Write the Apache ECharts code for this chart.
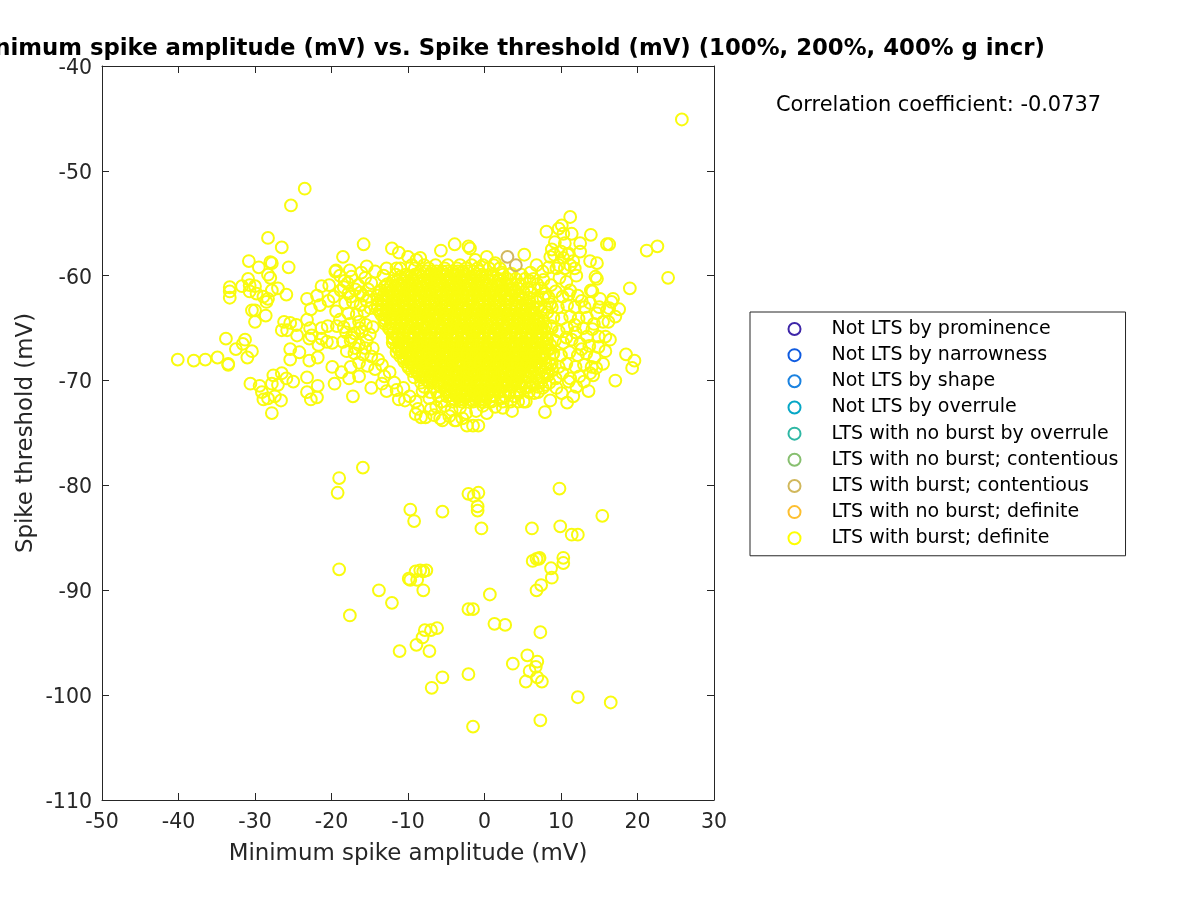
<!DOCTYPE html>
<html><head><meta charset="utf-8"><style>html,body{margin:0;background:#fff}#c{width:1200px;height:900px}</style>
<script src="https://cdn.jsdelivr.net/npm/echarts@6/dist/echarts.min.js"></script></head><body><div id="c"></div>
<script>
const categories=["Not LTS by prominence","Not LTS by narrowness","Not LTS by shape","Not LTS by overrule","LTS with no burst by overrule","LTS with no burst; contentious","LTS with burst; contentious","LTS with no burst; definite","LTS with burst; definite"];
const colors=["#3e26a8","#0f5be0","#1a82e0","#06a7c6","#2eb7a4","#87bf6f","#d1b85c","#fdbf2f","#f9fb0e"];
const contentious=[[3.0,-58.2],[4.1,-59.0]];
const lowerGroup=[[-19,-79.3],[-19.2,-80.7],[-15.9,-78.3],[-9.7,-82.3],[-9.2,-83.4],[-5.5,-82.5],[-2.1,-80.8],[-1.4,-81],[-0.8,-80.7],[-0.9,-82],[-0.9,-82.4],[-0.4,-84.1],[9.8,-80.3],[15.4,-82.9],[9.9,-83.9],[11.4,-84.7],[12.2,-84.7],[6.2,-84.1],[-19,-88],[-9.9,-88.9],[-9.7,-89],[-9,-88.2],[-8.4,-88.1],[-8,-88.2],[-7.6,-88.1],[-8.8,-89],[-8,-90],[-13.8,-90],[-12.1,-91.2],[-17.6,-92.4],[0.7,-90.4],[6.3,-87.2],[6.8,-87],[7.1,-87],[7.2,-86.9],[8.7,-87.9],[8.8,-88.8],[10.3,-87.4],[10.3,-86.9],[7.4,-89.5],[6.8,-90],[-2.1,-91.8],[-1.5,-91.8],[1.3,-93.2],[2.7,-93.3],[7.3,-94],[-6.2,-93.6],[-7,-93.8],[-7.8,-93.8],[-8.1,-94.5],[-8.9,-95.2],[-11.1,-95.8],[-7.2,-95.8],[-5.5,-98.3],[-6.9,-99.3],[-2.1,-98],[3.7,-97],[5.6,-96.2],[6.9,-96.8],[6.7,-97.3],[5.9,-97.7],[5.4,-98.7],[6.9,-98.3],[7.5,-98.7],[12.2,-100.2],[16.5,-100.7],[7.3,-102.4],[-1.5,-103]];
const outliers=[[25.8,-45.1],[-23.5,-51.7],[-25.3,-53.3],[-28.3,-56.4],[-26.5,-57.3],[-30.8,-58.6],[-28,-58.7],[-27.8,-58.8],[-29.5,-59.2],[-25.6,-59.2],[-28.3,-59.9],[-28,-60.2],[-30.9,-60.3],[-33.3,-61.1],[-33.3,-61.5],[-33.3,-62.1],[-31.7,-61],[-30.7,-60.9],[-30,-61],[-30.7,-61.5],[-29.8,-61.7],[-28.9,-62],[-28.3,-62.2],[-28.5,-62.5],[-27,-61.2],[-27.8,-61.4],[-25.9,-61.8],[-30.4,-63.3],[-30,-63.3],[-28.6,-63.8],[-30,-64.4],[-21.3,-61],[-23.2,-62.2],[-21.9,-61.9],[-20.4,-62.4],[-21.5,-62.8],[-22.7,-63.2],[-23.2,-64.2],[-26.2,-64.4],[-25.4,-64.5],[-24.6,-64.7],[-26.5,-65.2],[-25.8,-65.2],[-24.5,-65.7],[-22.8,-65],[-22.9,-66],[-22.6,-65.7],[-21.3,-65],[-20.5,-64.8],[-19.3,-64.8],[-21.3,-66],[-20.6,-66.3],[-19.9,-66.4],[-21.7,-66.6],[-25.4,-67],[-24.2,-67.3],[-25.4,-68],[-22.9,-68.1],[-21.8,-67.8],[-33.8,-66],[-31.3,-66.1],[-31.6,-66.5],[-32.5,-67],[-30.4,-67.2],[-31,-67.8],[-40.1,-68],[-38,-68.1],[-36.5,-68],[-34.9,-67.8],[-33.5,-68.4],[-33.5,-68.5],[-19.9,-68.7],[-18.7,-69.2],[-17.5,-68.7],[-16.4,-68.3],[-17.7,-69.8],[-16.4,-69.6],[-19.6,-70.3],[-17.2,-71.5],[-14.8,-70.7],[-11.2,-71.8],[-30.6,-70.3],[-29.4,-70.5],[-27.6,-69.5],[-26.5,-69.3],[-25.9,-69.8],[-25,-70.1],[-23.2,-69.7],[-27.8,-70.3],[-27,-70.4],[-29.1,-71.1],[-28.9,-71.8],[-28.3,-71.7],[-27.4,-71.5],[-26.6,-71.9],[-27.8,-73.1],[-23.2,-71.1],[-21.8,-70.5],[-21.9,-71.6],[-22.7,-71.8],[-15.8,-57],[-18.5,-58.2],[-19.4,-59.5],[-19.5,-59.6],[-12.1,-57.4],[-11.2,-57.8],[-10,-58.2],[-8.9,-58.5],[-8.4,-58.3],[-5.7,-57.6],[-17.6,-59.5],[-15.4,-59.1],[-11.5,-59.3],[11.2,-54.4],[8.1,-55.8],[10.1,-55.2],[9.7,-55.5],[10.3,-56],[11.4,-56],[13.9,-56.1],[9.2,-56.8],[10.5,-56.9],[12.5,-56.9],[12.5,-57.7],[8.8,-57.5],[16,-57],[16.3,-57],[21.2,-57.6],[22.6,-57.2],[24,-60.2],[19,-61.2],[8.6,-58.2],[9.7,-59],[10.3,-58.3],[11.2,-59],[11.8,-59.3],[10.5,-59.3],[9.4,-59.3],[13.8,-58.6],[14.7,-58.8],[14.5,-60.1],[14.7,-60.3],[13.9,-61.4],[14.1,-61.5],[11.2,-61.4],[11,-61.8],[16.8,-62.2],[17.6,-63.2],[16.6,-62.5],[17.1,-63.9],[16,-63.3],[15.1,-62.2],[13.1,-63],[14.7,-63.6],[15.5,-64.4],[16.4,-66.1],[15.8,-65.8],[15.8,-67.2],[14.9,-65.8],[15.5,-68.4],[13.4,-65.8],[12.5,-66.5],[18.5,-67.5],[19.6,-68.1],[19.3,-68.8],[17.1,-70],[14.2,-69.5],[13.8,-69.3],[13.6,-71],[12,-70.6],[11,-70.1],[11.6,-71.5],[10.8,-72.1],[7.9,-73],[8.6,-71.9],[5.4,-72],[3.6,-72.9],[1.4,-72.5],[-3.7,-73.8],[-5.8,-73.6],[-1.5,-74.3],[-2.3,-74.3],[-0.8,-74.3],[-3.9,-57],[-2.1,-57.2],[-1.9,-57.4],[0.3,-58.2],[5.2,-58],[6.8,-59],[-1.2,-58.5],[1.4,-58.8],[6,-59.7],[7.7,-60.4],[-9,-73.2],[-8.3,-73.5],[-7.7,-73.5],[-7,-72.7],[-5.5,-73.8],[-3.9,-73.8]];
const leftCloud=[[-18.3,-60.5],[-17.4,-60.1],[-16.5,-60.9],[-15.6,-60.2],[-14.8,-60.7],[-18.8,-61.4],[-17.8,-61.7],[-16.9,-61.3],[-15.9,-61.9],[-15.2,-61.3],[-18.2,-62.6],[-17.2,-62.5],[-16.2,-62.8],[-15.4,-62.4],[-17.8,-63.6],[-16.7,-63.7],[-15.7,-63.4],[-18.9,-64.2],[-17.6,-64.6],[-16.4,-64.4],[-15.5,-64.7],[-18.1,-65.4],[-17,-65.5],[-16,-65.3],[-15,-65.6],[-18.5,-66.3],[-17.5,-66.2],[-16.4,-66.6],[-15.4,-66.2],[-14.6,-66.9],[-18,-67.2],[-17,-67.4],[-15.9,-67.5],[-14.8,-67.7],[-13.9,-68],[-15.3,-68.6],[-14.3,-68.9],[-13.4,-68.5],[-13.1,-69.6],[-12.4,-69.2],[-11.8,-70.2],[-13.4,-70.3],[-20.3,-60.9],[-19.7,-62],[-19.4,-63.4],[-10.6,-70.7],[-9.8,-71.5],[-9,-72],[-8.1,-71],[-7.2,-71.7],[-6.3,-72.5],[-5.2,-72.4],[-4.3,-72.8],[-3.2,-72.6],[-2.4,-73.1],[-1.1,-72.9],[-0.2,-72.4],[0.7,-71.9],[2.2,-71.7],[3.1,-71.2],[4.2,-71.1],[6.5,-71.2],[7.6,-70.7],[-16.1,-59.7],[-14.3,-59.6],[-13.2,-60],[-18.9,-60],[-17.9,-60.7],[-16.2,-61.6],[-18.4,-61.1],[-15.1,-62],[-17.5,-62],[-14.9,-63.1],[-16.3,-65],[-17.4,-65.9],[-15.6,-66.9],[-16.9,-66.9],[-14.6,-64.9],[-18.4,-64.9],[-12.8,-71],[-11.5,-70.9],[-10.4,-71.9],[-8.7,-72.7],[-6.6,-73.3],[-4.6,-73.4],[-2.9,-73.6],[0.3,-73.1],[2.4,-72.6],[4.4,-72]];
const rightCloud=[[8.7,-60.9],[9.8,-60.2],[10.7,-60.6],[12,-60],[8,-61.7],[9.3,-61.5],[10.2,-62],[12.2,-61.9],[8.6,-62.7],[9.6,-63],[10.8,-62.8],[11.8,-63],[12.7,-62.4],[13.8,-62.6],[9,-64],[10.1,-64.1],[11.2,-63.9],[12.3,-64.1],[13.4,-64],[14.3,-64.6],[16.2,-64.4],[8.8,-65],[9.7,-65.3],[10.8,-65],[11.9,-65.4],[12.9,-65],[14.1,-65.1],[9.2,-66.2],[10.3,-66.4],[11.4,-66.1],[13.7,-66.7],[14.9,-66.8],[9,-67.4],[10,-67.6],[11.1,-67.3],[12.2,-67.6],[13.3,-67.4],[14.4,-67.8],[8.6,-68.5],[9.7,-68.7],[10.7,-68.4],[11.9,-68.7],[13,-68.5],[14,-68.7],[8.3,-69.5],[9.3,-69.8],[10.2,-69.3],[12.4,-69.6],[8,-70.4],[9.4,-70.7],[10.1,-71.2],[15,-63],[16.3,-63.1],[10,-57.7],[11,-57.9],[11.6,-58.6],[9.1,-58],[10.9,-58],[8.4,-59.2],[7.6,-59.6],[6.9,-60.8],[5.9,-60.5],[4.8,-59.9],[3.5,-59.8],[2.3,-59.7],[8.2,-63.5],[8.1,-66],[8.5,-67],[8.9,-69],[7.8,-69.2],[7.2,-70],[6.4,-70.4],[5.4,-70.7],[4.6,-70.3],[5.4,-69.6],[11.8,-64.7],[10.7,-65.9],[12.7,-67],[14.6,-68.8],[11.2,-69.8],[13,-70.1]];
const coreY=[-59.6,-60.1,-60.5,-61,-61.4,-61.9,-62.3,-62.8,-63.2,-63.7,-64.1,-64.6,-65,-65.5,-65.9,-66.4,-66.8,-67.3,-67.7,-68.2,-68.6,-69.1,-69.5,-70,-70.4,-70.9,-71.4,-71.8];
const coreX=[
[-8.4,-7.6,-6.9,-6.3,-5.5,-4.9,-4.1,-3.5,-2.8,-2.2,-1.4,-0.7],
[-11,-10.2,-9.6,-8.8,-8.2,-7.4,-6.7,-6.1,-5.3,-4.6,-3.9,-3.2,-2.6,-1.8,-1.1,-0.5,0.3,1],
[-12,-11.4,-10.6,-9.9,-9.3,-8.5,-7.8,-7.1,-6.5,-5.7,-5,-4.4,-3.6,-2.9,-2.3,-1.5,-0.8,-0.1,0.6,1.3,2],
[-13,-12.3,-11.7,-10.9,-10.2,-9.6,-8.8,-8.1,-7.5,-6.7,-6,-5.3,-4.7,-3.9,-3.2,-2.6,-1.8,-1.1,-0.4,0.2,1,1.7,2.3,3],
[-13.5,-12.8,-12,-11.4,-10.6,-9.9,-9.2,-8.6,-7.8,-7.1,-6.4,-5.8,-5,-4.3,-3.6,-3,-2.2,-1.5,-0.8,-0.2,0.6,1.3,2,2.6,3.4,4],
[-14,-13.2,-12.5,-11.9,-11.1,-10.4,-9.7,-9.1,-8.3,-7.6,-6.9,-6.2,-5.6,-4.8,-4.1,-3.5,-2.7,-2,-1.3,-0.7,0.1,0.8,1.5,2.1,2.9,3.6,4.5],
[-14,-13.5,-12.8,-12.1,-11.5,-10.7,-10,-9.3,-8.7,-7.9,-7.2,-6.6,-5.8,-5.1,-4.4,-3.8,-3,-2.3,-1.7,-0.9,-0.2,0.5,1.1,1.9,2.6,3.2,4,5],
[-14,-13.3,-12.6,-11.8,-11.2,-10.5,-9.8,-9.1,-8.4,-7.7,-7,-6.3,-5.6,-4.9,-4.2,-3.5,-2.8,-2.1,-1.4,-0.7,0,0.7,1.4,2.1,2.8,3.5,4.2,4.9,5.5],
[-14,-13.4,-12.7,-12,-11.4,-10.6,-9.9,-9.3,-8.5,-7.8,-7.2,-6.4,-5.7,-5.1,-4.3,-3.6,-3,-2.2,-1.5,-0.9,-0.1,0.6,1.2,2,2.7,3.3,4.1,4.8,5.4,6],
[-13.5,-12.9,-12.2,-11.5,-10.9,-10.1,-9.4,-8.8,-8,-7.3,-6.7,-5.9,-5.2,-4.6,-3.8,-3.1,-2.5,-1.7,-1,-0.4,0.4,1.1,1.7,2.5,3.2,3.8,4.6,5.3,5.9,6.5],
[-13,-12.4,-11.7,-11,-10.4,-9.6,-8.9,-8.3,-7.5,-6.8,-6.2,-5.4,-4.7,-4.1,-3.3,-2.6,-2,-1.2,-0.5,0.1,0.9,1.6,2.2,3,3.7,4.3,5.1,5.8,6.4,7],
[-13,-12.2,-11.5,-10.9,-10.1,-9.4,-8.7,-8.1,-7.3,-6.6,-5.9,-5.3,-4.5,-3.8,-3.1,-2.5,-1.7,-1,-0.3,0.3,1.1,1.8,2.5,3.1,3.9,4.6,5.3,5.9,6.6,7.2],
[-12.5,-11.9,-11.1,-10.4,-9.8,-9,-8.3,-7.7,-6.9,-6.2,-5.6,-4.8,-4.1,-3.5,-2.7,-2,-1.4,-0.6,0.1,0.7,1.5,2.2,2.8,3.6,4.3,4.9,5.7,6.4,7,7.5],
[-12,-11.3,-10.7,-9.9,-9.2,-8.6,-7.8,-7.1,-6.5,-5.7,-5,-4.4,-3.6,-2.9,-2.3,-1.5,-0.8,-0.2,0.6,1.3,1.9,2.7,3.4,4,4.8,5.5,6.1,6.9,7.5],
[-12,-11.4,-10.6,-9.9,-9.3,-8.5,-7.8,-7.2,-6.4,-5.7,-5.1,-4.3,-3.6,-3,-2.2,-1.5,-0.9,-0.1,0.6,1.2,2,2.7,3.3,4.1,4.8,5.4,6.2,6.9,7.5],
[-12,-11.2,-10.5,-9.9,-9.1,-8.4,-7.7,-7.1,-6.3,-5.6,-4.9,-4.3,-3.5,-2.8,-2.1,-1.5,-0.7,0,0.7,1.3,2.1,2.8,3.5,4.1,4.9,5.6,6.3,6.9,7.6,8],
[-11.5,-10.8,-10.2,-9.4,-8.7,-8.1,-7.3,-6.6,-6,-5.2,-4.5,-3.9,-3.1,-2.4,-1.8,-1,-0.3,0.3,1.1,1.8,2.4,3.2,3.9,4.5,5.3,6,6.6,7.4,8],
[-11.5,-10.9,-10.1,-9.4,-8.8,-8,-7.3,-6.7,-5.9,-5.2,-4.6,-3.8,-3.1,-2.5,-1.7,-1,-0.4,0.4,1.1,1.7,2.5,3.2,3.8,4.6,5.3,5.9,6.7,7.5],
[-11,-10.3,-9.7,-8.9,-8.2,-7.6,-6.8,-6.1,-5.5,-4.7,-4,-3.4,-2.6,-1.9,-1.3,-0.5,0.2,0.8,1.6,2.3,2.9,3.7,4.4,5,5.8,6.5,7.1,7.5],
[-10.5,-9.8,-9.1,-8.5,-7.7,-7,-6.3,-5.7,-4.9,-4.2,-3.5,-2.9,-2.1,-1.4,-0.7,-0.1,0.7,1.4,2.1,2.7,3.5,4.2,4.9,5.5,6.3,7],
[-10,-9.3,-8.7,-7.9,-7.2,-6.6,-5.8,-5.1,-4.5,-3.7,-3,-2.4,-1.6,-0.9,-0.3,0.5,1.2,1.8,2.6,3.3,3.9,4.7,5.4,6,6.5],
[-9.5,-8.9,-8.1,-7.4,-6.8,-6,-5.3,-4.7,-3.9,-3.2,-2.6,-1.8,-1.1,-0.5,0.3,1,1.6,2.4,3.1,3.7,4.5,5.2,6],
[-8.5,-7.8,-7.1,-6.5,-5.7,-5,-4.3,-3.7,-2.9,-2.2,-1.5,-0.9,-0.1,0.6,1.3,1.9,2.7,3.4,4.1,5],
[-7.5,-6.9,-6.1,-5.4,-4.8,-4,-3.3,-2.7,-1.9,-1.2,-0.6,0.2,0.9,1.5,2.3,3,3.5,4],
[-6,-5.3,-4.7,-3.9,-3.2,-2.6,-1.8,-1.1,-0.5,0.3,1,1.7,2.3,3],
[-5,-4.4,-3.6,-2.9,-2.3,-1.5,-0.8,-0.2,0.6,1.3,2],
[-4.5,-3.8,-3.1,-2.5,-1.7,-1,-0.3,0.3,1],
[-4,-3.3,-2.7,-1.9,-1.2,-0.6,0]];
const fillY=[-59.9,-60.8,-61.6,-62.5,-63.4,-64.3,-65.2,-66.1,-67,-67.9,-68.8,-69.7,-70.6,-71.5];
const fillX=[
[-11.6,-10.3,-9.1,-7.2,-6.6,-5.1,-3.8,-2.5,-0.3,1.1,2.4,3.2],
[-12.7,-11.1,-9.8,-8.4,-7.5,-6.2,-5.5,-4.2,-3.3,-2,-0.9,0.4,1.9,3.6,4.7],
[-13.8,-12.4,-11.2,-10.1,-9.5,-8.2,-7,-5.9,-4.9,-3.4,-2.4,-1.2,-0.4,1,2.3,3.9,5.1,6.1],
[-13.2,-12,-10.8,-9.7,-8.6,-7.4,-6.5,-5.3,-4,-3.2,-1.9,-0.8,0.6,1.7,3,4.4,5.9,6.8],
[-13.7,-12.5,-11.6,-10.3,-9.1,-8.2,-6.9,-5.6,-4.5,-3.4,-2.3,-1.1,0.2,1.4,2.4,3.8,5.1,6.3,7.4],
[-13.1,-11.9,-10.7,-9.5,-8.6,-7.1,-6.3,-5,-3.9,-2.7,-1.5,-0.6,0.7,1.9,3.3,4.4,5.5,6.8,7.7],
[-12.3,-11.1,-10.2,-8.9,-7.8,-6.6,-5.4,-4.5,-3.2,-2,-1,0.3,1.6,2.6,3.9,5.2,6.4,7.8],
[-11.9,-10.9,-9.6,-8.4,-7.3,-6,-5,-3.8,-2.6,-1.4,-0.5,0.9,2.1,3,4.4,5.7,7,8.2],
[-11.2,-10.3,-9,-7.7,-6.9,-5.5,-4.3,-3.3,-2,-1.2,0.1,1.3,2.7,3.6,5,6.1,7.3,8.3],
[-10.6,-9.6,-8.4,-7.2,-6.1,-4.9,-3.9,-2.5,-1.6,-0.3,0.8,2,3.1,4.3,5.4,6.7,7.9],
[-9.9,-8.8,-7.6,-6.7,-5.4,-4.4,-3.1,-2,-0.8,0.3,1.5,2.5,3.8,5,6.1,7.2,8],
[-9.2,-8.1,-6.9,-5.9,-4.6,-3.5,-2.4,-1.3,0,1.1,2.2,3.4,4.5,5.7,6.8,7.6],
[-7.9,-6.6,-5.7,-4.5,-3.4,-2.2,-1,0,1.2,2.5,3.6,4.8,5.9,7],
[-6,-4.9,-3.6,-2.4,-1.2,-0.1,1.3,2.7,3.9]];
const extraY=[-59,-59.3,-60.3,-61.2,-62.1,-63,-64.8,-66.6,-67.5,-68.4,-69.3,-70.2,-71.1,-72];
const extraX=[
[-9.5,-7.9,-6.4,-4.8,-3.2,-1.7,-0.2,1.2],
[-12.8,-11,-9.1,-7.3,-5.2,-3.6,-2.4,-0.9,0.6,2],
[1.9,3,4.1,5.3,6.4,-6.2,-9.4,-2.8],
[3.5,4.4,5.6,6.5,7.4,-8.7,-4.2],
[4.9,5.8,6.9,7.7,8.4,-10.5,-3.7],
[6.4,7.1,7.9,8.8,-11.7,-5.1],
[6.1,7,8,8.7,-7.6,-3],
[-10.4,-8.9,-7.8,-6.5,-5.3,-4.1,-2.9,-1.7,-0.4,0.8,2.5,4,5.1,6.4,8.6],
[-10,-8.6,-7.4,-6.1,-4.8,-3.6,-2.3,-1.1,0.2,1.5,2.7,4,5.2,6.3,7.8,8.9],
[-9.5,-8.2,-6.9,-5.6,-4.4,-3.3,-1.9,-0.6,0.6,1.9,3,4.3,5.5,6.7,8,8.8],
[-8.7,-7.5,-6.3,-5.1,-3.7,-2.7,-1.4,-0.2,1.1,2.3,3.5,4.7,6,7.1,8.2],
[-8.3,-7.2,-5.9,-4.7,-3.5,-2.3,-1,0.3,1.6,2.8,4.1,5.3,6.2,7.4,8.5],
[-7.1,-6.2,-5,-3.9,-2.8,-1.7,-0.6,0.7,1.9,3.3,4.6,5.8,7],
[-5.6,-4.2,-3,-1.5,-0.4,0.9,2.4,3.4,5.1]];
const definite=[...outliers,...leftCloud,...rightCloud,...lowerGroup];
coreY.forEach((y,i)=>coreX[i].forEach(x=>definite.push([x,y])));
fillY.forEach((y,i)=>fillX[i].forEach(x=>definite.push([x,y])));
extraY.forEach((y,i)=>extraX[i].forEach(x=>definite.push([x,y])));
const seriesData=[[],[],[],[],[],[],contentious,[],definite];
const xTicks={min:-50,max:30,step:10}, yTicks={min:-110,max:-40,step:10};
const ink='#262626';
const chart=echarts.init(document.getElementById('c'));
const ringLegend=categories.map((n,i)=>({name:n,icon:'circle',itemStyle:{color:'rgba(0,0,0,0)',borderColor:i==8?'#ffff00':colors[i],borderWidth:2}}));
const font='"DejaVu Sans"';
chart.setOption({
animation:false,backgroundColor:'#fff',
textStyle:{fontFamily:font},
title:[{text:'Minimum spike amplitude (mV) vs. Spike threshold (mV) (100%, 200%, 400% g incr)',right:150,top:33,textStyle:{fontFamily:font,fontSize:22.8,fontWeight:'bold',color:'#000'}},
{text:'Correlation coefficient: -0.0737',left:771,top:90,textStyle:{fontFamily:font,fontSize:20.9,fontWeight:'normal',color:'#000'}}],
grid:{left:102,right:486,top:66,bottom:100,outerBoundsMode:'none'},
legend:{orient:'vertical',left:750,top:312,padding:[7.5,7,8,37.5],itemWidth:64,itemHeight:12,itemGap:7.16,borderColor:ink,borderWidth:1,backgroundColor:'#fff',data:ringLegend,textStyle:{fontFamily:font,fontSize:19,color:'#000'},selectedMode:false},
xAxis:[{type:'value',min:xTicks.min,max:xTicks.max,interval:xTicks.step,name:'Minimum spike amplitude (mV)',nameLocation:'middle',nameGap:43,nameTextStyle:{fontSize:22.9,color:ink,fontFamily:font},axisLine:{onZero:false,lineStyle:{color:ink}},axisTick:{inside:true,length:7,lineStyle:{color:ink}},axisLabel:{fontSize:20.5,color:ink,margin:12,fontFamily:font},splitLine:{show:false}},
{type:'value',position:'top',min:xTicks.min,max:xTicks.max,interval:xTicks.step,axisLine:{onZero:false,lineStyle:{color:ink}},axisTick:{inside:true,length:7,lineStyle:{color:ink}},axisLabel:{show:false},splitLine:{show:false}}],
yAxis:[{type:'value',min:yTicks.min,max:yTicks.max,interval:yTicks.step,name:'Spike threshold (mV)',nameLocation:'middle',nameGap:64.5,nameMoveOverlap:false,nameTextStyle:{fontSize:22.9,color:ink,fontFamily:font},axisLine:{onZero:false,lineStyle:{color:ink}},axisTick:{inside:true,length:7,lineStyle:{color:ink}},axisLabel:{color:ink,margin:10,formatter:'{v|{value}}',rich:{v:{fontSize:20.5,color:ink,fontFamily:font,padding:[5,0,0,0]}}},splitLine:{show:false}},
{type:'value',position:'right',min:yTicks.min,max:yTicks.max,interval:yTicks.step,axisLine:{onZero:false,lineStyle:{color:ink}},axisTick:{inside:true,length:7,lineStyle:{color:ink}},axisLabel:{show:false},splitLine:{show:false}}],
series:categories.map((n,i)=>({name:n,type:'scatter',z:i==6?4:2,data:seriesData[i],symbol:'circle',symbolSize:11.8,large:false,silent:true,itemStyle:{color:'rgba(0,0,0,0)',borderColor:colors[i],borderWidth:2,opacity:1},emphasis:{disabled:true}}))
});
</script></body></html>
